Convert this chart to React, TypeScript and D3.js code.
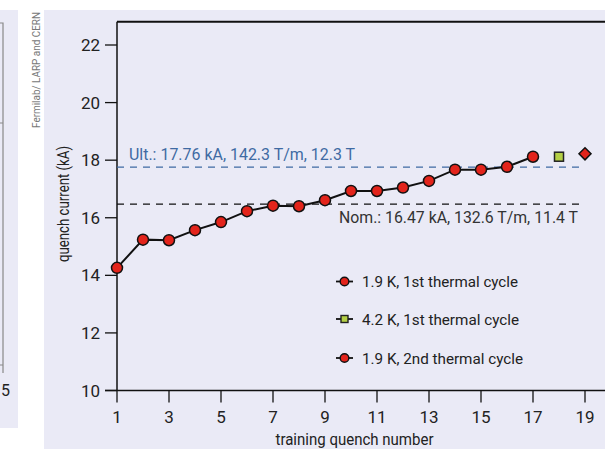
import React from "react";
import * as d3 from "d3";

const quenchNum1 = [1, 2, 3, 4, 5, 6, 7, 8, 9, 10, 11, 12, 13, 14, 15, 16, 17];
const quenchI1 = [14.26, 15.24, 15.22, 15.57, 15.85, 16.23, 16.42, 16.4, 16.61, 16.93, 16.93, 17.05, 17.28, 17.67, 17.67, 17.77, 18.12];
const quenchNum42 = [18];
const quenchI42 = [18.12];
const quenchNum2 = [19];
const quenchI2 = [18.22];
const ultValue = 17.76;
const nomValue = 16.47;
const ultLabel = "Ult.: 17.76 kA, 142.3 T/m, 12.3 T";
const nomLabel = "Nom.: 16.47 kA, 132.6 T/m, 11.4 T";
const xTicks = [1, 3, 5, 7, 9, 11, 13, 15, 17, 19];
const yTicks = [10, 12, 14, 16, 18, 20, 22];
const legendLabels = ["1.9 K, 1st thermal cycle", "4.2 K, 1st thermal cycle", "1.9 K, 2nd thermal cycle"];
const legendWidths = [156, 157, 161];

const FONT = "Roboto, 'Liberation Sans', sans-serif";
const RED = "#e3241b";
const GREEN = "#b4cf45";
const BG = "#eaeaf6";
const BLUE = "#3f6aa3";

export default function App() {
  const x = d3.scaleLinear().domain([1, 19]).range([117, 585]);
  const y = d3.scaleLinear().domain([10, 22]).range([390.5, 45]);
  const line = d3
    .line<number>()
    .x((_, i) => x(quenchNum1[i]))
    .y((d) => y(d));
  const topY = 21.7;
  const legendY = [281.5, 319, 358];

  const marker = (kind: number, cx: number, cy: number, s: number) => {
    if (kind === 1) {
      return <rect x={cx - s} y={cy - s} width={2 * s} height={2 * s} fill={GREEN} stroke="#222" strokeWidth={1.4} />;
    }
    return <circle cx={cx} cy={cy} r={s + 0.8} fill={RED} stroke="#111" strokeWidth={1.4} />;
  };

  return (
    <svg
      width={605}
      height={449}
      style={{ position: "absolute", left: 0, top: 0, fontFamily: FONT }}
    >
      <rect x={0} y={0} width={605} height={449} fill="#fff" />
      {/* left fragment panel */}
      <rect x={0} y={10} width={18} height={418} fill={BG} />
      <path d="M0,23 H3 V373" fill="none" stroke="#888" strokeWidth={1.2} />
      <path d="M0,123 H3" stroke="#888" strokeWidth={1} />
      <path d="M0,365 H3" stroke="#888" strokeWidth={1} />
      <text x={1} y={396} fontSize={16} fill="#222">5</text>
      {/* credit */}
      <text
        transform="translate(40,128) rotate(-90)"
        fontSize={11}
        fill="#777"
        textLength={116}
        lengthAdjust="spacingAndGlyphs"
      >
        Fermilab/ LARP and CERN
      </text>
      {/* main panel */}
      <rect x={44} y={10} width={561} height={439} fill={BG} />
      {/* axes */}
      <line x1={117} x2={605} y1={topY} y2={topY} stroke="#111" strokeWidth={2} />
      <line x1={117} x2={117} y1={topY} y2={y(10)} stroke="#111" strokeWidth={1.5} />
      <line x1={105} x2={605} y1={y(10)} y2={y(10)} stroke="#111" strokeWidth={1.5} />
      {yTicks.map((t) => (
        <g key={"y" + t}>
          <line x1={105} x2={117} y1={y(t)} y2={y(t)} stroke="#111" strokeWidth={1.3} />
          <text x={100} y={y(t)} dy="0.36em" textAnchor="end" fontSize={17} fill="#222">
            {t}
          </text>
        </g>
      ))}
      {xTicks.map((t) => (
        <g key={"x" + t}>
          <line x1={x(t)} x2={x(t)} y1={y(10)} y2={y(10) + 12} stroke="#111" strokeWidth={1.3} />
          <text x={x(t)} y={423} textAnchor="middle" fontSize={17} fill="#222">
            {t}
          </text>
        </g>
      ))}
      <text x={275.5} y={445} fontSize={16} fill="#222" textLength={158} lengthAdjust="spacingAndGlyphs">
        training quench number
      </text>
      <text
        transform="translate(69,262) rotate(-90)"
        fontSize={16}
        fill="#222"
        textLength={116}
        lengthAdjust="spacingAndGlyphs"
      >
        quench current (kA)
      </text>
      {/* reference lines */}
      <line x1={117} x2={580} y1={y(ultValue)} y2={y(ultValue)} stroke={BLUE} strokeWidth={1.3} strokeDasharray="7,6" />
      <line x1={117} x2={580} y1={y(nomValue)} y2={y(nomValue)} stroke="#111" strokeWidth={1.3} strokeDasharray="7,6" />
      <text x={129} y={160} fontSize={16} fill={BLUE} textLength={226} lengthAdjust="spacingAndGlyphs">
        {ultLabel}
      </text>
      <text x={339} y={223} fontSize={16} fill="#333" textLength={239} lengthAdjust="spacingAndGlyphs">
        {nomLabel}
      </text>
      {/* data */}
      <path d={line(quenchI1) || ""} fill="none" stroke="#111" strokeWidth={2} />
      {quenchI1.map((v, i) => (
        <circle key={"p" + i} cx={x(quenchNum1[i])} cy={y(v)} r={5.5} fill={RED} stroke="#111" strokeWidth={1.5} />
      ))}
      {quenchI42.map((v, i) => (
        <rect key={"s" + i} x={x(quenchNum42[i]) - 4.5} y={y(v) - 4.5} width={9} height={9} fill={GREEN} stroke="#222" strokeWidth={1.5} />
      ))}
      {quenchI2.map((v, i) => {
        const cx = x(quenchNum2[i]);
        const cy = y(v);
        const s = 6;
        return (
          <path key={"d" + i} d={`M${cx},${cy - s} L${cx + s},${cy} L${cx},${cy + s} L${cx - s},${cy} Z`} fill={RED} stroke="#111" strokeWidth={1.5} />
        );
      })}
      {/* legend */}
      {legendLabels.map((lab, i) => (
        <g key={"l" + i}>
          <line x1={336} x2={353} y1={legendY[i]} y2={legendY[i]} stroke="#111" strokeWidth={1.8} />
          {marker(i, 344.5, legendY[i], 3.5)}
          <text x={362} y={legendY[i]} dy="0.36em" fontSize={15.5} fill="#222" textLength={legendWidths[i]} lengthAdjust="spacingAndGlyphs">
            {lab}
          </text>
        </g>
      ))}
    </svg>
  );
}
